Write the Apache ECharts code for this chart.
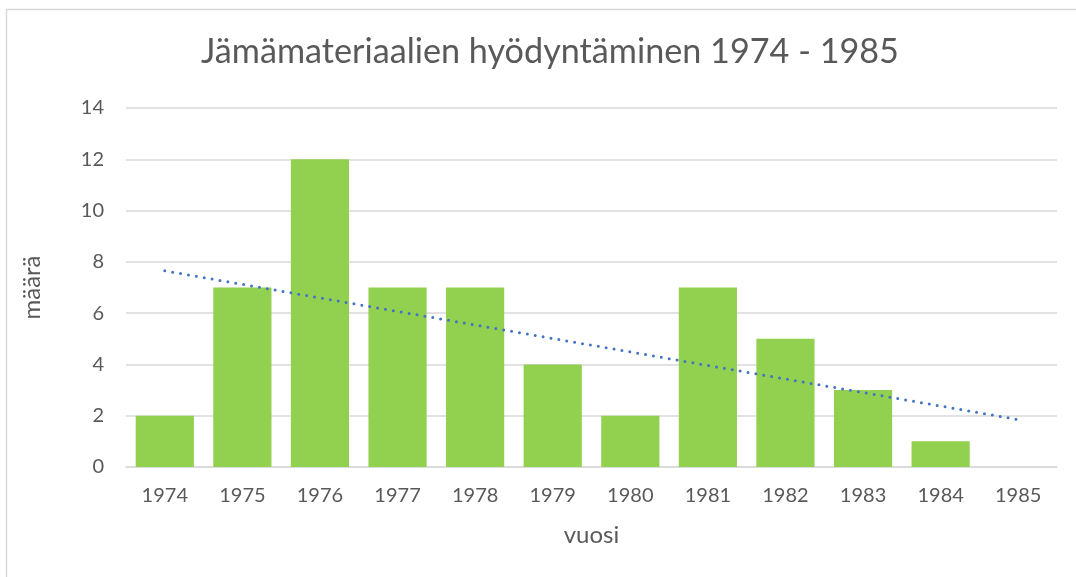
<!DOCTYPE html>
<html>
<head>
<meta charset="utf-8">
<script src="https://cdn.jsdelivr.net/npm/echarts@6/dist/echarts.min.js"></script>
<style>
  html, body { margin: 0; padding: 0; background: #fff; }
  #chart { width: 1076px; height: 577px; }
</style>
</head>
<body>
<div id="chart"></div>
<script>
var years = ["1974", "1975", "1976", "1977", "1978", "1979", "1980", "1981", "1982", "1983", "1984", "1985"];
var counts = [2, 7, 12, 7, 7, 4, 2, 7, 5, 3, 1, 0];
// linear trendline, end values
var trend = [7.65, null, null, null, null, null, null, null, null, null, null, 1.85];

var chart = echarts.init(document.getElementById("chart"));
var textColor = "#595959";
var font = "Lato, 'Open Sans', sans-serif";

chart.setOption({
  animation: false,
  graphic: [{
    type: "rect",
    shape: { x: 6.5, y: 9.5, width: 1100, height: 620 },
    style: { fill: "none", stroke: "#d9d9d9", lineWidth: 1.5 },
    silent: true
  }],
  title: {
    text: "Jämämateriaalien hyödyntäminen 1974 - 1985",
    left: 545,
    textAlign: "center",
    top: 30,
    textStyle: { color: textColor, fontSize: 34.2, fontWeight: 400, fontFamily: font }
  },
  grid: { left: 126, right: 19, top: 108, bottom: 110, containLabel: false },
  xAxis: {
    type: "category",
    data: years,
    name: "vuosi",
    nameLocation: "middle",
    nameGap: 56,
    nameTextStyle: { color: textColor, fontSize: 24, fontFamily: font },
    axisLine: { lineStyle: { color: "#d9d9d9", width: 1.5 } },
    axisTick: { show: false },
    axisLabel: { color: textColor, fontSize: 20, fontFamily: font, margin: 19 }
  },
  yAxis: {
    type: "value",
    min: 0,
    max: 14,
    interval: 2,
    name: "määrä",
    nameLocation: "middle",
    nameGap: 82,
    nameTextStyle: { color: textColor, fontSize: 24, fontFamily: font },
    axisLabel: { color: textColor, fontSize: 20, fontFamily: font, margin: 22 },
    splitLine: { lineStyle: { color: "#d9d9d9", width: 1.5 } }
  },
  series: [
    {
      type: "bar",
      data: counts,
      barCategoryGap: "25%",
      itemStyle: { color: "#92d050" }
    },
    {
      type: "line",
      data: trend,
      connectNulls: true,
      symbol: "none",
      z: 5,
      lineStyle: { color: "#4472c4", width: 3, type: [0, 8], cap: "round" }
    }
  ]
});
</script>
</body>
</html>
